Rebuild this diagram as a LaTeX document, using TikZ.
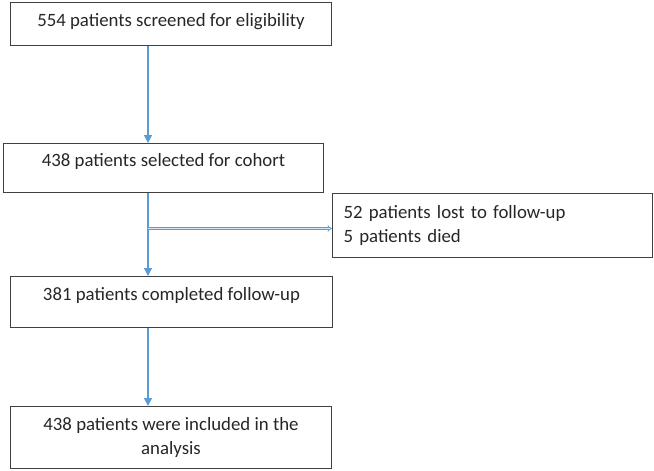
\documentclass[tikz,border=0pt]{standalone}
\usepackage{fontspec}
\setmainfont{Carlito}
\usetikzlibrary{arrows.meta}
\definecolor{flowblue}{RGB}{91,155,213}
\definecolor{boxgray}{RGB}{64,64,64}
\definecolor{textgray}{RGB}{38,38,38}

\begin{document}
\begin{tikzpicture}[x=1pt,y=-1pt,
    box/.style={draw=boxgray, text=textgray, line width=1pt, anchor=north west, inner xsep=0pt, inner ysep=0pt,
        font=\fontsize{18.8}{24.5}\selectfont},
    flow/.style={draw=flowblue, line width=1.2pt, -{Triangle[width=8pt,length=8pt]}},
    branch/.style={draw=flowblue, line width=0.8pt, double=flowblue!25, double distance=1.4pt, -{Implies}}]
    \useasboundingbox (0,0) rectangle (654,471);
    % boxes
    \node[box, minimum width=321pt, text height=24pt, text depth=19pt] (screened) at (10,2) {554 patients screened for eligibility};
    \node[box, minimum width=320pt, text height=23pt, text depth=26pt] (cohort) at (3,143) {438 patients selected for cohort};
    \node[box, minimum width=320pt, minimum height=64pt, align=left, inner xsep=11pt, text width=298pt] (losses) at (332,193) {52 patients lost to follow-up\\5 patients died};
    \node[box, minimum width=322pt, text height=24pt, text depth=27pt] (completed) at (10,276) {381 patients completed follow-up};
    \node[box, minimum width=321pt, minimum height=62pt, align=center] (analysed) at (10,406) {438 patients were included in the\\analysis};
    % arrows
    \coordinate (spine) at (148,0);
    \draw[flow] (screened.south -| spine) -- (cohort.north -| spine);
    \draw[flow] (cohort.south -| spine) -- (completed.north -| spine);
    \draw[branch] (spine |- losses.west) ++(0,3) -- ([yshift=-3pt]losses.west);
    \draw[flow] (completed.south -| spine) -- (analysed.north -| spine);
\end{tikzpicture}
\end{document}
